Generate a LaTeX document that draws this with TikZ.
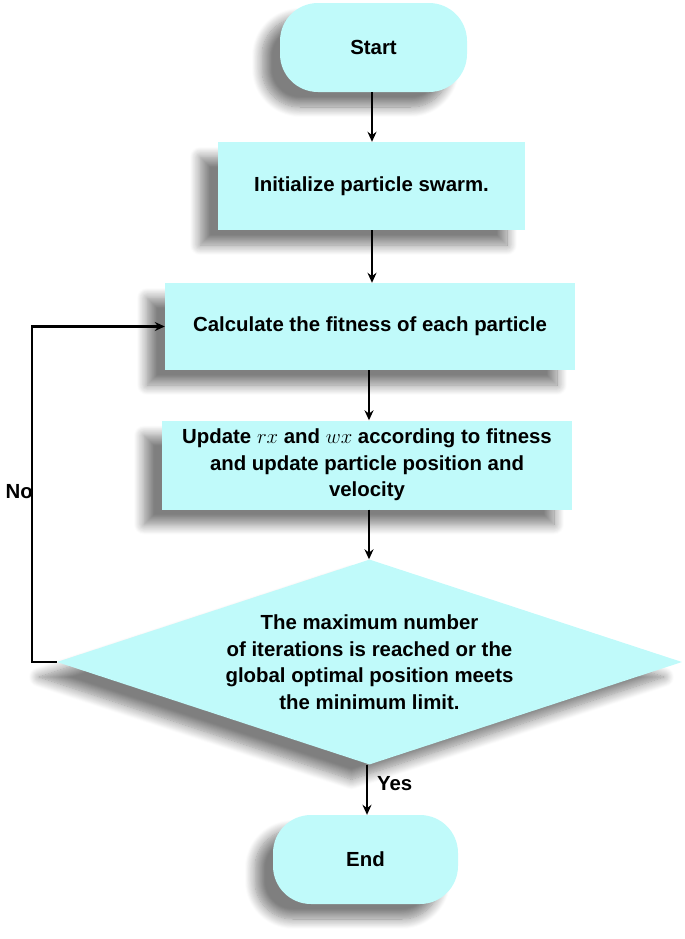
\documentclass[tikz,border=0pt]{standalone}
\usepackage{fontspec}
\setmainfont{Liberation Sans}
\usetikzlibrary{arrows.meta,shapes.geometric,shadows.blur}
\definecolor{boxfill}{RGB}{192,250,250}
\begin{document}
\begin{tikzpicture}[x=1bp,y=-1bp,
  font=\fontsize{20.4bp}{26.5bp}\selectfont\bfseries,
  shade/.style={blur shadow={shadow xshift=-18bp, shadow yshift=-15bp, shadow blur radius=10bp, shadow blur steps=12, shadow opacity=50}},
  term/.style={shade, fill=boxfill, rounded corners=38bp, minimum width=#1, minimum height=89bp, inner sep=0pt},
  proc/.style={shade, fill=boxfill, minimum width=#1, minimum height=88bp, inner sep=0pt, align=center},
  dec/.style={shade, fill=boxfill, shape=diamond, minimum width=625bp, minimum height=205bp, shape aspect=3.05, inner sep=0pt, align=center},
  flow/.style={line width=2.3bp, -{Stealth[length=10bp,width=9bp]}},
  loop/.style={line width=2.8bp, -{Stealth[length=10bp,width=9bp]}},
  lbl/.style={inner sep=0pt}
]
\useasboundingbox (0,0) rectangle (685,939);
\node[term=187bp] (start) at (373.5,47.5) {Start};
\node[proc=307bp] (init) at (371.5,186) {Initialize particle swarm.};
\node[proc=410bp, minimum height=87bp] (calc) at (370,326.5) {Calculate the fitness of each particle};
\node[proc=410bp, minimum height=89bp] (upd) at (367,465) {Update $rx$ and $wx$ according to fitness\\and update particle position and\\velocity};
\node[dec] (dec) at (369.5,662) {\fontsize{20.4bp}{25bp}\selectfont The maximum number\\of iterations is reached or the\\global optimal position meets\\the minimum limit.};
\node[term=185bp] (end) at (365.5,859.5) {End};

\draw[flow] (start.south -| 372,0) -- (init.north -| 372,0);
\draw[flow] (init.south -| 372,0) -- (calc.north -| 372,0);
\draw[flow] (calc.south -| 369,0) -- (upd.north -| 369,0);
\draw[flow] (upd.south -| 369,0) -- (dec.north -| 369,0);
\draw[flow] (dec.south -| 367,0) -- (end.north -| 367,0) node[pos=0.38, right=9bp, lbl] (yes) {Yes};
\coordinate (lp) at (32,662);
\draw[loop] (dec.west) -- (lp) |- (calc.west);
\node[lbl, anchor=east] (no) at (33,492) {No};
\end{tikzpicture}
\end{document}
